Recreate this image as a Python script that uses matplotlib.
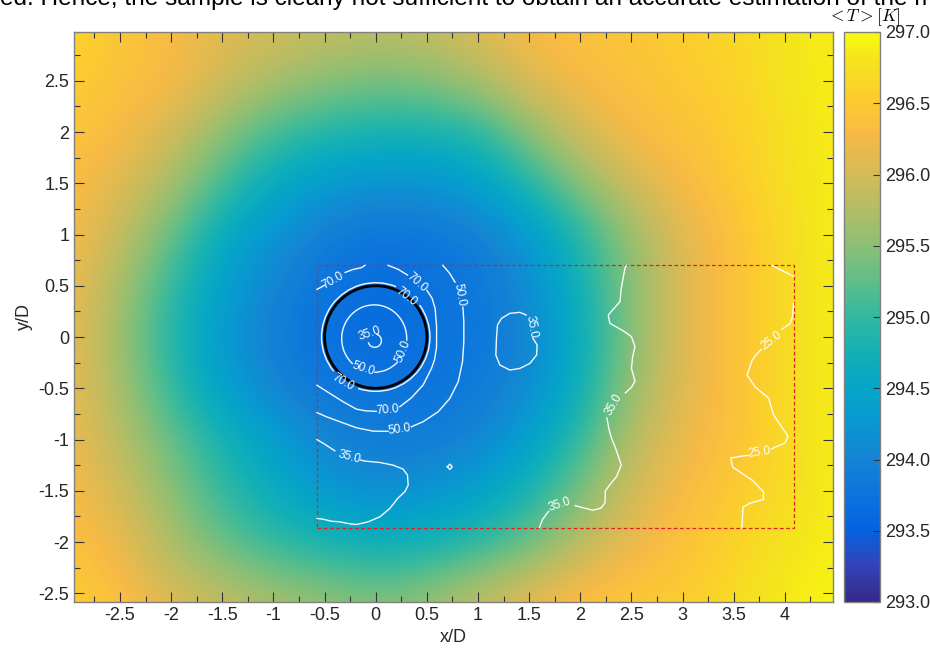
import numpy as np
import matplotlib
matplotlib.use("Agg")
import matplotlib.pyplot as plt
from matplotlib.colors import LinearSegmentedColormap
from matplotlib.patches import Arc, Circle, Rectangle
from matplotlib.ticker import MultipleLocator, FormatStrFormatter

nan = np.nan

# mean temperature <T> [K] on a 0.5 D grid, rows from y=3 (top) to y=-3
grid_x = [-3.0, -2.5, -2.0, -1.5, -1.0, -0.5, 0.0, 0.5, 1.0, 1.5, 2.0, 2.5, 3.0, 3.5, 4.0, 4.5]
grid_y = [3.0, 2.5, 2.0, 1.5, 1.0, 0.5, 0.0, -0.5, -1.0, -1.5, -2.0, -2.5, -3.0]
T_mean = [
    [296.65, 296.45, 296.3, 296.1, 296.0, 295.9, 295.85, 295.9, 296.1, 296.3, 296.4, 296.45, 296.55, 296.65, 296.8, 296.9],
    [296.55, 296.4, 296.3, 296.0, 295.7, 295.5, 295.4, 295.45, 295.7, 296.1, 296.3, 296.4, 296.5, 296.6, 296.8, 296.9],
    [296.45, 296.3, 296.0, 295.5, 295.1, 294.9, 294.8, 294.8, 294.9, 295.5, 296.0, 296.3, 296.4, 296.55, 296.75, 296.9],
    [296.35, 296.1, 295.7, 295.1, 294.6, 294.3, 294.2, 294.2, 294.4, 294.9, 295.5, 296.0, 296.3, 296.5, 296.75, 296.9],
    [296.3, 295.9, 295.3, 294.6, 294.2, 293.9, 293.75, 293.8, 293.9, 294.3, 294.9, 295.6, 296.1, 296.4, 296.7, 296.9],
    [296.25, 295.7, 295.0, 294.4, 294.0, 293.75, 293.65, 293.7, 293.8, 294.1, 294.75, 295.5, 296.1, 296.4, 296.7, 296.9],
    [296.2, 295.6, 294.9, 294.3, 293.9, 293.7, 293.65, 293.7, 293.8, 294.0, 294.65, 295.5, 296.1, 296.4, 296.7, 296.9],
    [296.2, 295.7, 295.0, 294.4, 294.0, 293.8, 293.75, 293.75, 293.85, 294.1, 294.7, 295.6, 296.1, 296.4, 296.7, 296.9],
    [296.25, 295.8, 295.3, 294.8, 294.4, 294.0, 293.9, 293.9, 294.0, 294.4, 295.0, 295.8, 296.2, 296.4, 296.7, 296.9],
    [296.3, 296.0, 295.5, 295.0, 294.6, 294.3, 294.1, 294.2, 294.4, 294.8, 295.4, 296.0, 296.3, 296.5, 296.7, 296.9],
    [296.4, 296.2, 295.7, 295.3, 295.0, 294.8, 294.7, 294.75, 294.95, 295.3, 295.8, 296.2, 296.4, 296.6, 296.8, 296.9],
    [296.55, 296.35, 296.0, 295.8, 295.6, 295.5, 295.35, 295.5, 295.8, 296.1, 296.35, 296.45, 296.5, 296.7, 296.85, 296.95],
    [296.65, 296.5, 296.3, 296.1, 295.9, 295.8, 295.7, 295.8, 296.0, 296.3, 296.5, 296.55, 296.6, 296.75, 296.9, 297.0],
]

# measurement window (dashed box) and cylinder
box_x = [-0.575, 4.085]
box_y = [-1.86, 0.70]
cyl_r = 0.5

# near-cylinder rings: (cx, cy, rx, ry, theta1, theta2) pieces between labels
ring70 = [(0.0, 0.0, 0.53, 0.53, 68, 219), (0.0, 0.0, 0.53, 0.53, 251, 396)]
ring50 = [(-0.015, -0.015, 0.318, 0.329, -4, 230), (-0.015, -0.015, 0.318, 0.329, 270, 316)]
ring35 = [(-0.01, -0.035, 0.065, 0.065, -165, 75)]

# open contour lines (nan = gap for a label)
c70_x = [-0.575, -0.50, nan, -0.30, -0.22, -0.14, -0.105, nan, 0.12, 0.22, 0.31, nan,
         0.50, 0.55, 0.58, 0.595, 0.594, 0.575, 0.545, 0.463, 0.349, 0.235, nan,
         0.005, -0.10, -0.19, -0.319, -0.449, -0.575]
c70_y = [0.465, 0.505, nan, 0.63, 0.66, 0.677, 0.70, nan, 0.70, 0.66, 0.605, nan,
         0.455, 0.38, 0.28, 0.10, -0.10, -0.22, -0.306, -0.468, -0.592, -0.68, nan,
         -0.725, -0.72, -0.703, -0.631, -0.55, -0.47]

c50_x = [0.655, 0.72, 0.775, nan, 0.852, 0.861, 0.861, 0.848, 0.806, 0.724, 0.61, 0.463, 0.349, nan,
         0.12, -0.026, -0.189, -0.352, -0.482, -0.575]
c50_y = [0.70, 0.625, 0.535, nan, 0.29, 0.15, -0.045, -0.24, -0.436, -0.599, -0.729, -0.826, -0.875, nan,
         -0.92, -0.918, -0.885, -0.826, -0.778, -0.737]

c35_ll_x = [-0.575, -0.50, -0.40, nan, -0.15, -0.107, 0.04, 0.17, 0.268, 0.31, 0.317, 0.284, 0.219,
            0.137, 0.04, -0.075, -0.189, -0.254, -0.352, -0.433, -0.515, -0.575]
c35_ll_y = [-1.0, -1.045, -1.11, nan, -1.20, -1.21, -1.224, -1.25, -1.289, -1.347, -1.445, -1.51, -1.569,
            -1.673, -1.754, -1.803, -1.829, -1.822, -1.803, -1.797, -1.777, -1.77]

c35_isl_x = [1.535, 1.578, 1.572, 1.507, 1.409, 1.311, 1.213, 1.174, 1.18, 1.19, 1.23, 1.311, 1.409, 1.47]
c35_isl_y = [-0.01, -0.078, -0.176, -0.257, -0.306, -0.322, -0.273, -0.176, -0.013, 0.117, 0.183, 0.231, 0.241, 0.215]

c35_dot_x = [0.70, 0.724, 0.748, 0.724, 0.70]
c35_dot_y = [-1.266, -1.24, -1.266, -1.292, -1.266]

c35_r_x = [2.45, 2.436, 2.40, 2.387, 2.273, 2.289, 2.42, 2.50, 2.534, 2.51, 2.50, 2.534, 2.50, 2.44, nan,
           2.26, 2.28, 2.305, 2.35, 2.40, 2.354, 2.29, 2.245, 2.24, 2.20, 2.12, 1.95, nan, 1.69, 1.63, 1.60]
c35_r_y = [0.70, 0.671, 0.475, 0.345, 0.215, 0.134, 0.06, 0.004, -0.094, -0.2, -0.306, -0.43, -0.49, -0.545, nan,
           -0.79, -0.9, -0.989, -1.1, -1.25, -1.36, -1.44, -1.5, -1.62, -1.67, -1.69, -1.645, nan, -1.70, -1.78, -1.86]

c25_a_x = [3.87, 3.98, 4.085]
c25_a_y = [0.70, 0.645, 0.59]

c25_b_x = [4.085, 4.075, 4.05, 3.97, nan, 3.77, 3.72, 3.68, 3.63, 3.71, 3.84, 3.89, 3.97, 4.03, 4.0, 3.87, nan,
           3.64, 3.59, 3.47, 3.49, 3.68, 3.79, 3.79, 3.66, 3.59, 3.58]
c25_b_y = [0.33, 0.2, 0.13, 0.075, nan, -0.12, -0.17, -0.225, -0.37, -0.488, -0.596, -0.762, -0.879, -0.967, -1.035, -1.09, nan,
           -1.155, -1.16, -1.18, -1.27, -1.396, -1.51, -1.585, -1.62, -1.66, -1.86]

# contour labels
lab_text = ["70.0", "70.0", "70.0", "70.0", "70.0", "50.0", "50.0", "50.0", "50.0",
            "35.0", "35.0", "35.0", "35.0", "35.0", "25.0", "25.0"]
lab_x = [-0.415, 0.405, 0.30, -0.32, 0.12, 0.822, 0.235, -0.12, 0.27,
         -0.06, -0.26, 1.523, 2.33, 1.80, 3.87, 3.755]
lab_y = [0.555, 0.535, 0.39, -0.445, -0.712, 0.41, -0.905, -0.305, -0.14,
         0.03, -1.175, 0.10, -0.66, -1.635, -0.03, -1.125]
lab_rot = [30, -42, -38, -30, 5, -80, 8, -18, 68,
           18, -15, -80, 60, 18, 38, 8]

# parula-like colormap anchors
parula = [(0.2081, 0.1663, 0.5292), (0.1959, 0.2645, 0.7279), (0.0117, 0.3875, 0.8820),
          (0.0498, 0.4586, 0.8641), (0.0793, 0.5200, 0.8312), (0.0343, 0.5966, 0.8199),
          (0.0228, 0.6535, 0.7768), (0.0843, 0.6928, 0.7062), (0.2178, 0.7250, 0.6193),
          (0.3953, 0.7459, 0.5244), (0.5709, 0.7485, 0.4494), (0.7184, 0.7411, 0.3905),
          (0.8507, 0.7299, 0.3360), (0.9739, 0.7314, 0.2666), (0.9880, 0.8066, 0.1794),
          (0.9589, 0.8949, 0.1132), (0.9763, 0.9831, 0.0538)]
parula_pos = [0, 4, 8, 12, 16, 20, 24, 28, 32, 36, 40, 44, 48, 52, 56, 60, 63]

plt.rcParams['font.family'] = ['Liberation Sans', 'DejaVu Sans']
plt.rcParams['mathtext.fontset'] = 'cm'
plt.rcParams['axes.unicode_minus'] = False

cmap = LinearSegmentedColormap.from_list(
    "parula", [(p / 63.0, c) for p, c in zip(parula_pos, parula)])

fig = plt.figure(figsize=(9.3, 6.54), dpi=100)
ax = fig.add_axes([74 / 930, 52 / 654, 759 / 930, 570 / 654])

dx = grid_x[1] - grid_x[0]
dy = grid_y[0] - grid_y[1]
extent = [grid_x[0] - dx / 2, grid_x[-1] + dx / 2, grid_y[-1] - dy / 2, grid_y[0] + dy / 2]
im = ax.imshow(np.array(T_mean), extent=extent, origin='upper', cmap=cmap,
               vmin=293, vmax=297, interpolation='bicubic', aspect='auto')

lc = dict(color='white', lw=1.0, alpha=0.95)
for cx, cy in [(c70_x, c70_y), (c50_x, c50_y), (c35_ll_x, c35_ll_y), (c35_isl_x, c35_isl_y),
               (c35_dot_x, c35_dot_y), (c35_r_x, c35_r_y), (c25_a_x, c25_a_y), (c25_b_x, c25_b_y)]:
    ax.plot(cx, cy, **lc)
for ring in (ring70, ring50, ring35):
    for cx, cy, rx, ry, t1, t2 in ring:
        ax.add_patch(Arc((cx, cy), 2 * rx, 2 * ry, theta1=t1, theta2=t2, **lc))

ax.add_patch(Circle((0, 0), cyl_r, fill=False, ec='black', lw=2.0))

ax.add_patch(Rectangle((box_x[0], box_y[0]), box_x[1] - box_x[0], box_y[1] - box_y[0],
                       fill=False, ec='#e02020', lw=0.9, ls=(0, (3, 2))))

for t, x, y, r in zip(lab_text, lab_x, lab_y, lab_rot):
    ax.text(x, y, t, color='white', fontsize=8.5, rotation=r, rotation_mode='anchor',
            ha='center', va='center')

ax.set_xlim(-2.95, 4.47)
ax.set_ylim(-2.585, 2.976)
ax.xaxis.set_major_locator(MultipleLocator(0.5))
ax.yaxis.set_major_locator(MultipleLocator(0.5))
ax.xaxis.set_minor_locator(MultipleLocator(0.25))
ax.yaxis.set_minor_locator(MultipleLocator(0.25))
ax.xaxis.set_major_formatter(FormatStrFormatter('%g'))
ax.yaxis.set_major_formatter(FormatStrFormatter('%g'))
ax.tick_params(which='both', direction='in', top=True, right=True, color='#333333',
               labelcolor='#262626', labelsize=13)
ax.tick_params(which='major', length=7, width=0.8)
ax.tick_params(which='minor', length=4, width=0.8)
for s in ax.spines.values():
    s.set_color('#808080')
    s.set_linewidth(1.0)
ax.set_xlabel('x/D', fontsize=13, color='#262626', labelpad=4)
ax.set_ylabel('y/D', fontsize=13, color='#262626', labelpad=4)

cax = fig.add_axes([844 / 930, 52 / 654, 36 / 930, 570 / 654])
cb = fig.colorbar(im, cax=cax)
cb.set_ticks(np.arange(293, 297.01, 0.5))
cb.ax.yaxis.set_major_formatter(FormatStrFormatter('%.1f'))
cb.ax.tick_params(direction='in', length=5, width=0.8, color='#333333',
                  labelcolor='#262626', labelsize=13)
cb.outline.set_edgecolor('#808080')
cb.outline.set_linewidth(1.0)

fig.text(864 / 930, 1 - 17 / 654, r'$<T>[K]$', fontsize=12.5, ha='center', va='center')
fig.text(0.0, 1 - 5 / 654,
         "ed. Hence, the sample is clearly not sufficient to obtain an accurate estimation of the m",
         fontsize=17.6, ha='left', va='baseline')

fig.savefig('out.png', dpi=100)
